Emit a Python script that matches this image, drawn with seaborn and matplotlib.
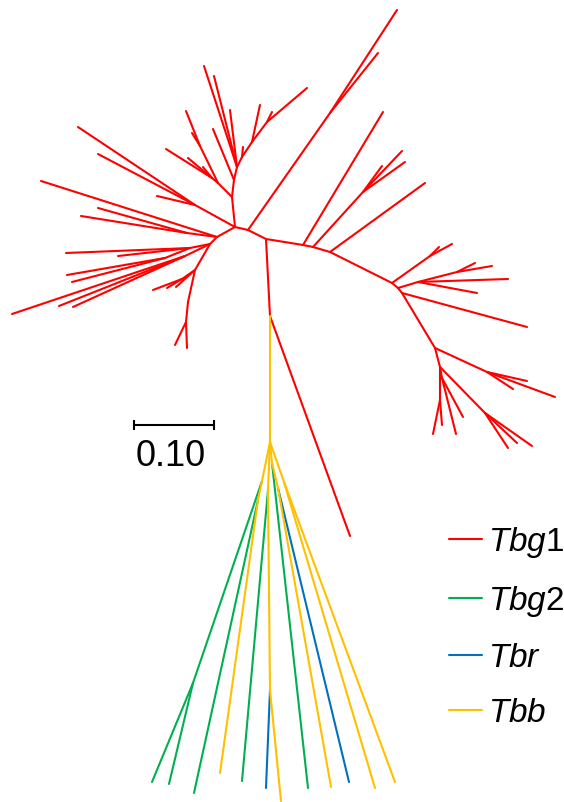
import pandas as pd
import matplotlib
matplotlib.use("Agg")
import matplotlib.pyplot as plt
import seaborn as sns
from matplotlib.lines import Line2D

# tree layout (pixel units, y grows downwards)
# each node: name, x, y, parent, clade of the branch leading to it
node_name = [
    # hub + left fan
    "A", "LA", "t01", "t02", "t03", "LB", "t04", "LB2", "t05", "t06",
    "LC", "LC1", "t07", "t08", "LC2", "t09", "t10", "LC3", "t11", "t12", "t13",
    "LD", "LD2", "t14", "t15", "t16", "LE", "LF", "t17", "t18",
    # top fan
    "C", "Q", "Q1", "t19", "t20", "Q2", "t21", "t22", "t23", "C2", "t24",
    "C3", "t25", "t26", "t27", "R", "t28", "R2", "t29", "R3", "t30", "t31",
    # right fan
    "E", "E2", "t32", "t33", "D", "F", "t34", "G", "G2", "t35", "t36", "t37",
    "H", "t38", "I", "J", "t39", "t40", "K", "L", "t41", "t42", "L2", "t43", "t44",
    "M", "t45", "N", "N1", "t46", "t47", "t48", "O", "O2", "t49", "t50",
    "O3", "t51", "t52", "O4", "t53", "t54", "t55",
    # bottom fan
    "S", "t56", "T", "U1", "U3", "t57", "t58", "U2", "t59", "t60",
    "W", "t61", "V", "t62", "t63", "X", "t64", "X2", "t65", "t66", "Y", "t67", "t68",
]
node_x = [
    235, 195, 78, 98, 157, 217, 41, 187, 98, 81,
    210, 190, 66, 118, 165, 67, 72, 185, 12, 59, 73,
    195, 182, 153, 167, 176, 188, 186, 187, 175,
    232, 218, 200, 186, 192, 212, 166, 188, 203, 234, 213,
    237, 204, 214, 230, 242, 243, 252, 260, 267, 272, 307,
    248, 330, 397, 378, 266, 303, 383, 313, 363, 402, 405, 382,
    330, 425, 392, 430, 452, 439, 398, 418, 508, 477, 457, 475, 492,
    402, 527, 435, 487, 555, 527, 513, 440, 440, 433, 442,
    442, 456, 463, 485, 508, 517, 532,
    270, 350, 270, 262, 193, 152, 169, 258, 194, 220,
    268, 242, 270, 266, 281, 272, 308, 278, 331, 349, 284, 375, 395,
]
node_y = [
    227, 205, 127, 154, 196, 237, 181, 233, 208, 216,
    244, 248, 253, 256, 258, 275, 282, 256, 314, 306, 307,
    270, 279, 290, 288, 287, 302, 322, 348, 345,
    197, 183, 146, 111, 133, 178, 149, 158, 167, 180, 129,
    167, 66, 76, 110, 157, 147, 142, 105, 122, 112, 88,
    230, 113, 10, 53, 239, 245, 112, 247, 192, 151, 162, 166,
    252, 183, 283, 256, 244, 247, 288, 282, 279, 293, 272, 263, 266,
    293, 327, 348, 372, 397, 381, 389, 367, 400, 434, 425,
    378, 434, 417, 413, 448, 443, 446,
    316, 536, 442, 481, 683, 782, 784, 500, 793, 773,
    490, 781, 690, 788, 801, 463, 788, 488, 787, 782, 482, 788, 782,
]
node_parent = [
    None, "A", "LA", "LA", "LA", "A", "LB", "LB", "LB2", "LB2",
    "LB", "LC", "LC1", "LC1", "LC1", "LC2", "LC2", "LC", "LC3", "LC3", "LC3",
    "LC", "LD", "LD2", "LD2", "LD", "LD", "LE", "LF", "LF",
    "A", "C", "Q", "Q1", "Q1", "Q", "Q2", "Q2", "Q2", "C", "C2",
    "C2", "C3", "C3", "C3", "C3", "R", "R", "R2", "R2", "R3", "R3",
    "A", "E", "E2", "E2", "E", "D", "F", "F", "G", "G2", "G2", "G2",
    "G", "H", "H", "I", "J", "J", "I", "K", "L", "L", "L", "L2", "L2",
    "K", "M", "M", "N", "N1", "N1", "N1", "N", "O", "O2", "O2",
    "O", "O3", "O3", "O", "O4", "O4", "O4",
    "D", "S", "S", "T", "U1", "U3", "U3", "U1", "U2", "U2",
    "T", "W", "W", "V", "V", "T", "X", "X", "X2", "X2", "T", "Y", "Y",
]
bottom_clade = [
    "Tbg1", "Tbg1", "Tbb", "Tbb", "Tbg2", "Tbg2", "Tbg2", "Tbb", "Tbg2", "Tbb",
    "Tbb", "Tbg2", "Tbb", "Tbr", "Tbb", "Tbb", "Tbg2", "Tbb", "Tbb", "Tbr",
    "Tbb", "Tbb", "Tbb",
]
node_clade = ["Tbg1"] * (len(node_name) - len(bottom_clade)) + bottom_clade

clades = ["Tbg1", "Tbg2", "Tbr", "Tbb"]
clade_labels = [r"$\mathit{Tbg}$1", r"$\mathit{Tbg}$2", r"$\mathit{Tbr}$", r"$\mathit{Tbb}$"]
clade_colors = ["#FF0000", "#00B050", "#0070C0", "#FFC000"]

scale_value = "0.10"
scale_length = 80  # pixels for 0.10 substitutions

# build one two-point line per branch
pos = {n: (x, y) for n, x, y in zip(node_name, node_x, node_y)}
rows = []
for i, (n, p, c) in enumerate(zip(node_name, node_parent, node_clade)):
    if p is None:
        continue
    rows.append({"edge": i, "x": pos[p][0], "y": pos[p][1], "clade": c})
    rows.append({"edge": i, "x": pos[n][0], "y": pos[n][1], "clade": c})
df = pd.DataFrame(rows)

sns.set_style("white")
plt.rcParams["font.family"] = ["Liberation Sans", "DejaVu Sans"]
plt.rcParams["mathtext.fontset"] = "custom"
plt.rcParams["mathtext.rm"] = "Liberation Sans"
plt.rcParams["mathtext.it"] = "Liberation Sans:italic"
plt.rcParams["text.color"] = "black"

fig = plt.figure(figsize=(5.64, 8.02), dpi=100)
ax = fig.add_axes([0, 0, 1, 1])

sns.lineplot(data=df, x="x", y="y", hue="clade", units="edge", estimator=None,
             sort=False, hue_order=clades, palette=clade_colors,
             linewidth=1.5, legend=False, ax=ax)

ax.set_xlim(0, 564)
ax.set_ylim(802, 0)
ax.axis("off")

# scale bar
bx, by = 134, 425
ax.plot([bx, bx + scale_length], [by, by], color="black", lw=1.5,
        marker="|", markersize=7, markeredgewidth=1.5)
ax.text(bx + scale_length / 2 - 3, by + 31, scale_value, ha="center", va="center",
        fontsize=26, color="black")

# legend (text runs past the right edge, as in the original figure)
handles = [Line2D([0], [0], color=c, lw=1.5) for c in clade_colors]
ax.legend(handles, clade_labels, loc="center left", bbox_to_anchor=(449, 627),
          bbox_transform=ax.transData, frameon=False, fontsize=24,
          handlelength=1.0, handletextpad=0.18, labelspacing=0.72,
          borderpad=0, borderaxespad=0, labelcolor="black")

fig.savefig("out.png", dpi=100)
